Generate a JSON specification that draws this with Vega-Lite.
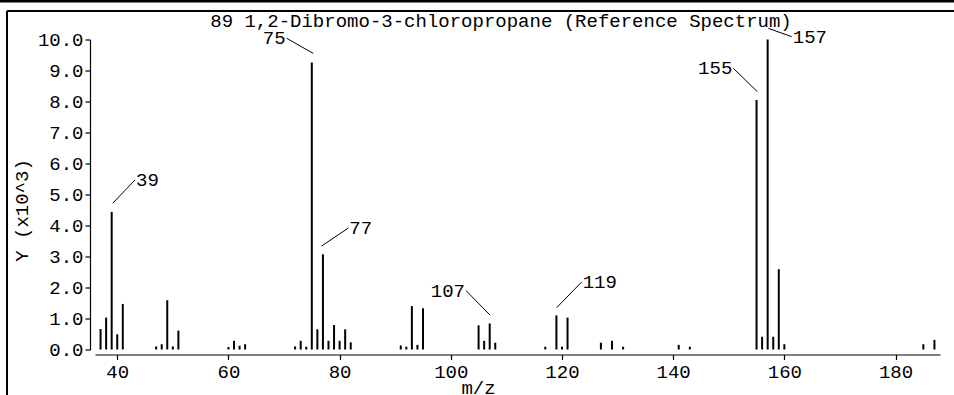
{
  "$schema": "https://vega.github.io/schema/vega-lite/v6.json",
  "autosize": "none",
  "width": 845,
  "height": 310,
  "padding": {"left": 95, "top": 39.5, "right": 14, "bottom": 45.5},
  "background": "white",
  "config": {
    "view": {"stroke": null},
    "font": "Liberation Mono",
    "text": {"font": "Liberation Mono"},
    "axis": {"labelFont": "Liberation Mono", "titleFont": "Liberation Mono", "labelColor": "black", "titleColor": "black", "domainColor": "black", "tickColor": "black", "labelFontSize": 19, "titleFontSize": 19, "titleFontWeight": "normal", "grid": false, "domainWidth": 1.2, "tickWidth": 1.2, "labelOverlap": false, "labelFlush": false}
  },
  "title": {"text": "89 1,2-Dibromo-3-chloropropane (Reference Spectrum)", "font": "Liberation Mono", "fontSize": 19, "fontWeight": "normal", "color": "black", "anchor": "middle", "frame": "group", "dx": -16.5, "dy": 59, "baseline": "alphabetic", "offset": 12.5},
  "datasets": {
    "peaks": [
      {"mz": 37, "intensity": 0.66}, {"mz": 38, "intensity": 1.03}, {"mz": 39, "intensity": 4.44}, {"mz": 40, "intensity": 0.49}, {"mz": 41, "intensity": 1.47},
      {"mz": 47, "intensity": 0.10}, {"mz": 48, "intensity": 0.17}, {"mz": 49, "intensity": 1.59}, {"mz": 50, "intensity": 0.10}, {"mz": 51, "intensity": 0.61},
      {"mz": 60, "intensity": 0.08}, {"mz": 61, "intensity": 0.28}, {"mz": 62, "intensity": 0.12}, {"mz": 63, "intensity": 0.17},
      {"mz": 72, "intensity": 0.10}, {"mz": 73, "intensity": 0.28}, {"mz": 74, "intensity": 0.09}, {"mz": 75, "intensity": 9.26}, {"mz": 76, "intensity": 0.65},
      {"mz": 77, "intensity": 3.07}, {"mz": 78, "intensity": 0.28}, {"mz": 79, "intensity": 0.79}, {"mz": 80, "intensity": 0.28}, {"mz": 81, "intensity": 0.65}, {"mz": 82, "intensity": 0.23},
      {"mz": 91, "intensity": 0.13}, {"mz": 92, "intensity": 0.09}, {"mz": 93, "intensity": 1.40}, {"mz": 94, "intensity": 0.15}, {"mz": 95, "intensity": 1.33},
      {"mz": 105, "intensity": 0.78}, {"mz": 106, "intensity": 0.28}, {"mz": 107, "intensity": 0.84}, {"mz": 108, "intensity": 0.22},
      {"mz": 117, "intensity": 0.09}, {"mz": 119, "intensity": 1.10}, {"mz": 120, "intensity": 0.09}, {"mz": 121, "intensity": 1.03},
      {"mz": 127, "intensity": 0.22}, {"mz": 129, "intensity": 0.28}, {"mz": 131, "intensity": 0.09},
      {"mz": 141, "intensity": 0.15}, {"mz": 143, "intensity": 0.09},
      {"mz": 155, "intensity": 8.05}, {"mz": 156, "intensity": 0.41}, {"mz": 157, "intensity": 10.0}, {"mz": 158, "intensity": 0.41}, {"mz": 159, "intensity": 2.59}, {"mz": 160, "intensity": 0.17},
      {"mz": 185, "intensity": 0.17}, {"mz": 187, "intensity": 0.31}
    ],
    "notes": [
      {"label": "39", "x_start": 39.2, "y_start": 4.72, "x_end": 43.2, "y_end": 5.47},
      {"label": "75", "x_start": 75.27, "y_start": 9.55, "x_end": 70.48, "y_end": 10.04},
      {"label": "77", "x_start": 76.78, "y_start": 3.34, "x_end": 81.57, "y_end": 3.92},
      {"label": "107", "x_start": 107.06, "y_start": 1.11, "x_end": 102.74, "y_end": 1.9},
      {"label": "119", "x_start": 119.05, "y_start": 1.35, "x_end": 123.55, "y_end": 2.18},
      {"label": "155", "x_start": 155.14, "y_start": 8.32, "x_end": 150.82, "y_end": 9.07},
      {"label": "157", "x_start": 157.12, "y_start": 10.36, "x_end": 161.33, "y_end": 10.09}
    ]
  },
  "layer": [
    {
      "data": {"name": "peaks"},
      "mark": {"type": "rule", "color": "black", "strokeWidth": 2},
      "encoding": {
        "x": {"field": "mz", "type": "quantitative", "scale": {"domain": [36, 188], "nice": false, "zero": false},
          "axis": {"title": "m/z", "values": [40, 60, 80, 100, 120, 140, 160, 180], "offset": 5, "tickSize": 5, "labelPadding": 17.5, "labelBaseline": "alphabetic", "titleBaseline": "alphabetic", "titleX": 383, "titleY": 38.5, "labelOverlap": false}},
        "y": {"field": "intensity", "type": "quantitative", "scale": {"domain": [0, 10], "nice": false},
          "axis": {"title": "Y (x10^3)", "values": [0, 1, 2, 3, 4, 5, 6, 7, 8, 9, 10], "tickCount": 11, "format": ".1f", "offset": 5, "tickSize": 5, "labelPadding": 2, "labelBaseline": "middle", "labelOverlap": false, "labelSeparation": 0, "titleAngle": -90, "titleBaseline": "middle", "titleAlign": "center", "titleX": -69, "titleY": 170.5}},
        "y2": {"datum": 0}
      }
    },
    {
      "data": {"name": "notes"},
      "mark": {"type": "rule", "color": "black", "strokeWidth": 1},
      "encoding": {
        "x": {"field": "x_start", "type": "quantitative",
          "axis": {"title": "m/z", "values": [40, 60, 80, 100, 120, 140, 160, 180], "offset": 5, "tickSize": 5, "labelPadding": 17.5, "labelBaseline": "alphabetic", "titleBaseline": "alphabetic", "titleX": 383, "titleY": 38.5, "labelOverlap": false}},
        "x2": {"field": "x_end"},
        "y": {"field": "y_start", "type": "quantitative",
          "axis": {"title": "Y (x10^3)", "values": [0, 1, 2, 3, 4, 5, 6, 7, 8, 9, 10], "tickCount": 11, "format": ".1f", "offset": 5, "tickSize": 5, "labelPadding": 2, "labelBaseline": "middle", "labelOverlap": false, "labelSeparation": 0, "titleAngle": -90, "titleBaseline": "middle", "titleAlign": "center", "titleX": -69, "titleY": 170.5}},
        "y2": {"field": "y_end"}
      }
    },
    {
      "data": {"name": "notes"},
      "transform": [{"filter": {"field": "label", "oneOf": ["39", "77", "119", "157"]}}],
      "mark": {"type": "text", "font": "Liberation Mono", "fontSize": 19, "color": "black", "align": "left", "baseline": "middle", "dx": 1},
      "encoding": {
        "x": {"field": "x_end", "type": "quantitative",
          "axis": {"title": "m/z", "values": [40, 60, 80, 100, 120, 140, 160, 180], "offset": 5, "tickSize": 5, "labelPadding": 17.5, "labelBaseline": "alphabetic", "titleBaseline": "alphabetic", "titleX": 383, "titleY": 38.5, "labelOverlap": false}},
        "y": {"field": "y_end", "type": "quantitative",
          "axis": {"title": "Y (x10^3)", "values": [0, 1, 2, 3, 4, 5, 6, 7, 8, 9, 10], "tickCount": 11, "format": ".1f", "offset": 5, "tickSize": 5, "labelPadding": 2, "labelBaseline": "middle", "labelOverlap": false, "labelSeparation": 0, "titleAngle": -90, "titleBaseline": "middle", "titleAlign": "center", "titleX": -69, "titleY": 170.5}},
        "text": {"field": "label"}
      }
    },
    {
      "data": {"name": "notes"},
      "transform": [{"filter": {"field": "label", "oneOf": ["75", "107", "155"]}}],
      "mark": {"type": "text", "font": "Liberation Mono", "fontSize": 19, "color": "black", "align": "right", "baseline": "middle", "dx": -1},
      "encoding": {
        "x": {"field": "x_end", "type": "quantitative",
          "axis": {"title": "m/z", "values": [40, 60, 80, 100, 120, 140, 160, 180], "offset": 5, "tickSize": 5, "labelPadding": 17.5, "labelBaseline": "alphabetic", "titleBaseline": "alphabetic", "titleX": 383, "titleY": 38.5, "labelOverlap": false}},
        "y": {"field": "y_end", "type": "quantitative",
          "axis": {"title": "Y (x10^3)", "values": [0, 1, 2, 3, 4, 5, 6, 7, 8, 9, 10], "tickCount": 11, "format": ".1f", "offset": 5, "tickSize": 5, "labelPadding": 2, "labelBaseline": "middle", "labelOverlap": false, "labelSeparation": 0, "titleAngle": -90, "titleBaseline": "middle", "titleAlign": "center", "titleX": -69, "titleY": 170.5}},
        "text": {"field": "label"}
      }
    },
    {
      "data": {"values": [{"edge": "left"}]},
      "mark": {"type": "rule", "color": "black", "strokeWidth": 2},
      "encoding": {
        "x": {"datum": 20.17, "type": "quantitative"},
        "y": {"datum": 10.92, "type": "quantitative"},
        "y2": {"datum": -1.6}
      }
    },
    {
      "data": {"values": [{"edge": "top"}]},
      "mark": {"type": "rule", "color": "black", "strokeWidth": 2},
      "encoding": {
        "x": {"datum": 20.17, "type": "quantitative"},
        "x2": {"datum": 190.6},
        "y": {"datum": 10.92, "type": "quantitative"}
      }
    },
    {
      "data": {"values": [{"edge": "previous"}]},
      "mark": {"type": "rule", "color": "black", "strokeWidth": 3},
      "encoding": {
        "x": {"datum": 18.9, "type": "quantitative"},
        "x2": {"datum": 190.6},
        "y": {"datum": 11.24, "type": "quantitative"}
      }
    }
  ]
}
